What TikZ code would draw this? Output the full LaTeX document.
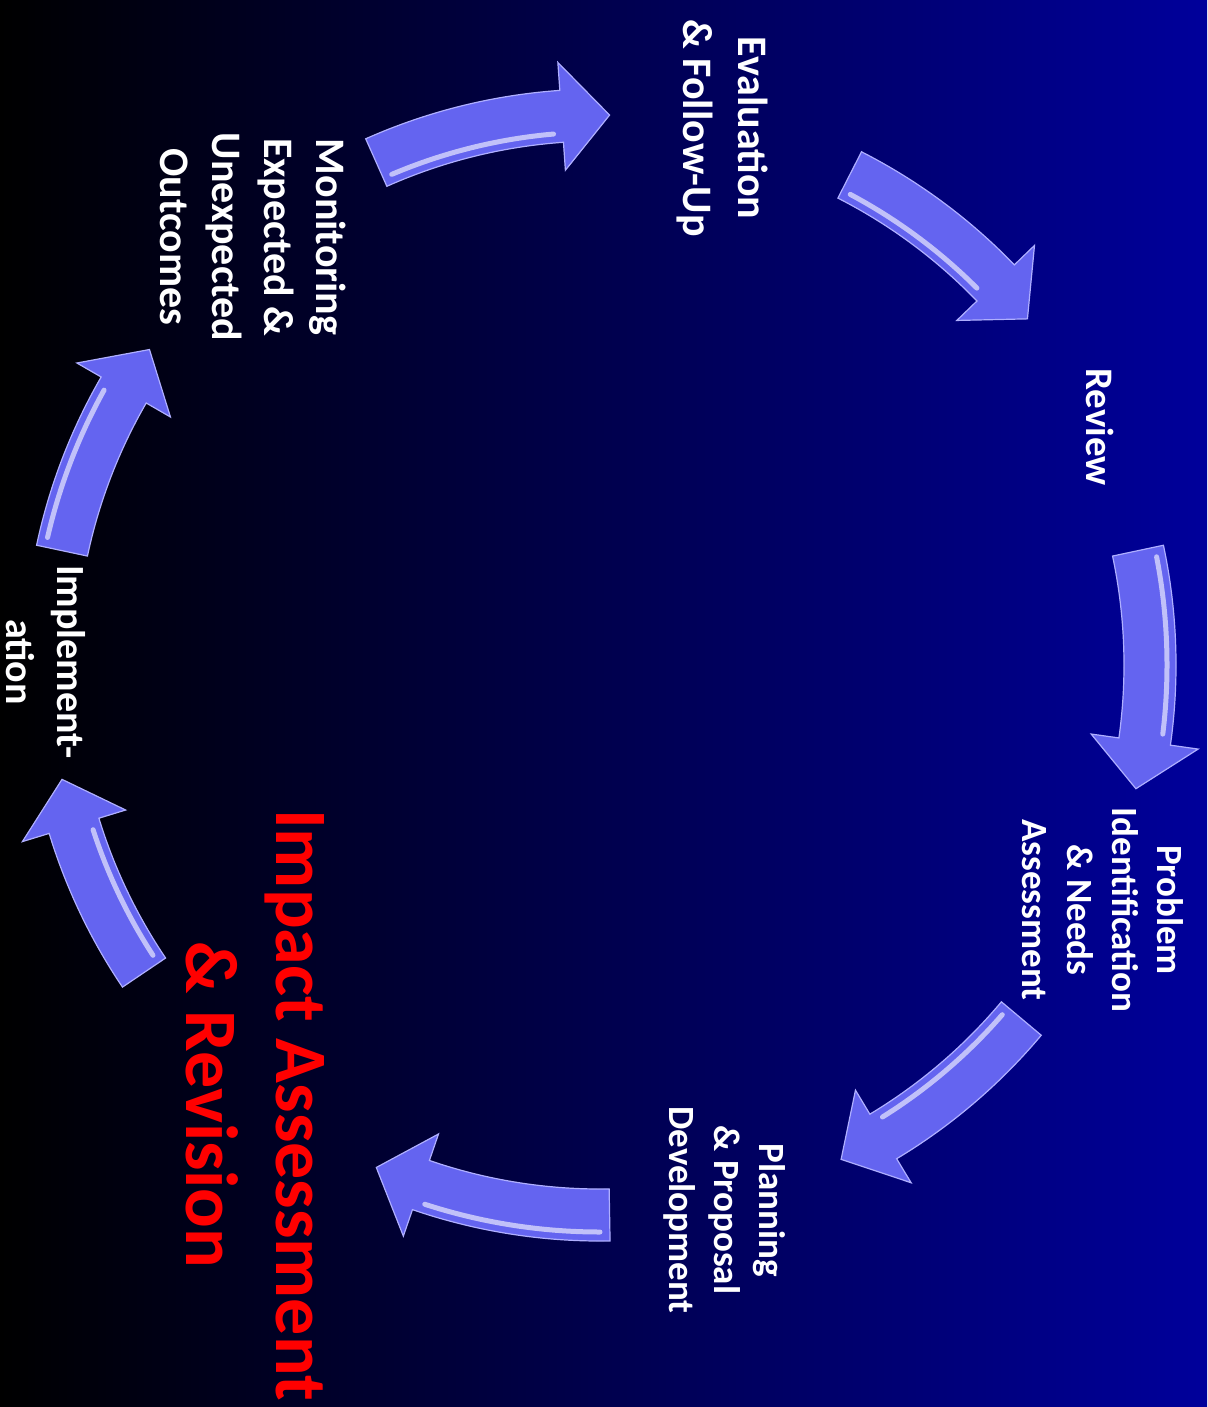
\documentclass[tikz,border=0pt]{standalone}
\usepackage{fontspec}
\setmainfont{Carlito}
\begin{document}
\begin{tikzpicture}[x=1pt,y=1pt,
  lbl/.style={text=white, font=\bfseries, rotate=-90, align=center, inner sep=0pt},
  arrowfill/.style={fill={rgb,255:red,100;green,100;blue,240}},
  arrowedge/.style={draw={rgb,255:red,175;green,175;blue,255}, line width=1.2pt, line join=miter},
  shine/.style={draw=white, line width=5pt, opacity=0.6, line cap=round}
]
\useasboundingbox (0,0) rectangle (1207,-1407);
\shade[left color=black, middle color={rgb,255:red,0;green,0;blue,62}, right color={rgb,255:red,0;green,0;blue,155}] (0,0) rectangle (1207,-1407);

\coordinate (C) at (600,-665);
\def\ro{576}\def\ri{524}\def\rho{604}\def\rhi{496}\def\rr{550}
\newcommand{\cycarrow}[3]{%
  \pgfmathsetmacro\ab{#2+5}%
  \pgfmathsetmacro\rs{550+#3*17}%
  \begin{scope}[shift={(C)}]
  \path[arrowfill, arrowedge] (#1:\ro) arc[start angle=#1,end angle=\ab,radius=\ro]
     -- (\ab:\rho) -- (#2:\rr) -- (\ab:\rhi) -- (\ab:\ri)
     arc[start angle=\ab,end angle=#1,radius=\ri] -- cycle;
  \draw[shine] (#1-1:\rs) arc[start angle=#1-1,end angle=\ab+1,radius=\rs];
  \end{scope}}

\cycarrow{63}{39}{-1}
\cycarrow{12}{-13}{1}
\cycarrow{-40}{-64}{-1}
\cycarrow{-89}{-114}{1}
\cycarrow{214}{192}{-1}
\cycarrow{168}{145}{1}
\cycarrow{114}{89}{-1}

\node[lbl, font=\bfseries\fontsize{42}{55}\selectfont] (eval) at (722,-128) {Evaluation\\\& Follow-Up};
\node[lbl, font=\bfseries\fontsize{39}{46}\selectfont] (review) at (1100,-427) {Review};
\node[lbl, font=\bfseries\fontsize{37}{45}\selectfont] (prob) at (1103,-910) {Problem\\Identification\\\& Needs\\Assessment};
\node[lbl, font=\bfseries\fontsize{37}{45}\selectfont] (plan) at (725,-1210) {Planning\\\& Proposal\\Development};
\node[lbl, font=\bfseries\fontsize{40}{51}\selectfont] (impl) at (46,-662) {Implement-\\ation};
\node[lbl, font=\bfseries\fontsize{42}{52}\selectfont] (mon) at (253,-237) {Monitoring\\Expected \&\\Unexpected\\Outcomes};
\node[lbl, text=red, font=\bfseries\fontsize{74}{90}\selectfont] (impact) at (255,-1105) {Impact Assessment\\\& Revision};
\end{tikzpicture}
\end{document}
